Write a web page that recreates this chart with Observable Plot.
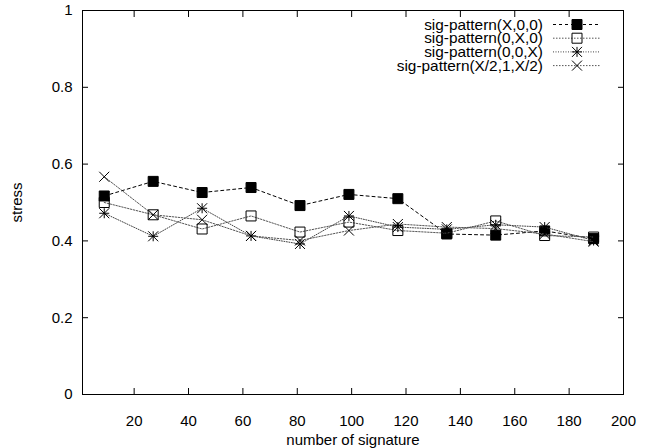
<!DOCTYPE html>
<html><head><meta charset="utf-8">
<script src="https://cdn.jsdelivr.net/npm/d3@7"></script>
<script src="https://cdn.jsdelivr.net/npm/@observablehq/plot@0.6"></script>
<style>body{margin:0;background:#fff} svg{display:block}</style>
</head><body><div id="chart"></div>
<script>
const xValues = [9, 27, 45, 63, 81, 99, 117, 135, 153, 171, 189];
const seriesNames = ["sig-pattern(X,0,0)", "sig-pattern(0,X,0)", "sig-pattern(0,0,X)", "sig-pattern(X/2,1,X/2)"];
const sX00 = [0.517, 0.555, 0.526, 0.539, 0.492, 0.521, 0.510, 0.418, 0.415, 0.426, 0.406];
const s0X0 = [0.500, 0.468, 0.431, 0.465, 0.423, 0.449, 0.427, 0.420, 0.452, 0.414, 0.410];
const s00X = [0.472, 0.412, 0.485, 0.413, 0.392, 0.465, 0.436, 0.430, 0.442, 0.436, 0.401];
const sHalf = [0.567, 0.468, 0.455, 0.413, 0.401, 0.427, 0.444, 0.436, 0.432, 0.418, 0.398];
const xTicks = [20, 40, 60, 80, 100, 120, 140, 160, 180, 200];
const yTicks = [0, 0.2, 0.4, 0.6, 0.8, 1];

const seriesValues = [sX00, s0X0, s00X, sHalf];

function sym(fn) { return {draw(ctx, size) { const h = Math.sqrt(size / Math.PI); fn(ctx, h); }}; }
const squareSym = sym((c, h) => { c.moveTo(-h, -h); c.lineTo(h, -h); c.lineTo(h, h); c.lineTo(-h, h); c.closePath(); });
const asteriskSym = sym((c, h) => { c.moveTo(-h, 0); c.lineTo(h, 0); c.moveTo(0, -h); c.lineTo(0, h); c.moveTo(-h, -h); c.lineTo(h, h); c.moveTo(-h, h); c.lineTo(h, -h); });
const timesSym = sym((c, h) => { c.moveTo(-h, -h); c.lineTo(h, h); c.moveTo(-h, h); c.lineTo(h, -h); });

const styles = [
  {dash: "3,3", stroke: "#000", symbol: squareSym, fill: "#000"},
  {dash: "1.5,1.5", stroke: "#555", symbol: squareSym, fill: "none"},
  {dash: "1,1.5", stroke: "#444", symbol: asteriskSym, fill: "none"},
  {dash: "1.5,1.5", stroke: "#555", symbol: timesSym, fill: "none"}
];

const data = seriesNames.map((name, i) => xValues.map((x, j) => ({series: name, x, y: seriesValues[i][j]})));

const marks = [];
data.forEach((rows, i) => {
  const st = styles[i];
  marks.push(Plot.line(rows, {x: "x", y: "y", stroke: st.stroke, strokeWidth: 1, strokeDasharray: st.dash}));
  marks.push(Plot.dot(rows, {x: "x", y: "y", symbol: st.symbol, r: 5, stroke: "#000", strokeWidth: 1, fill: st.fill}));
});

const plot = Plot.plot({
  width: 646,
  height: 448,
  marginLeft: 82,
  marginRight: 23,
  marginTop: 10,
  marginBottom: 54,
  style: {fontFamily: "'Liberation Sans', Arial, sans-serif", fontSize: "15px", color: "#000", background: "#fff"},
  x: {domain: [1, 200]},
  y: {domain: [0, 1]},
  marks: [
    Plot.axisX(xTicks, {anchor: "bottom", tickSize: 0, tickPadding: 21, label: "number of signature", labelAnchor: "center", labelArrow: "none", labelOffset: 50}),
    Plot.axisX(xTicks, {anchor: "bottom", tickSize: -6, tickFormat: () => "", label: null}),
    Plot.axisX(xTicks, {anchor: "top", tickSize: -6, tickFormat: () => "", label: null}),
    Plot.axisY(yTicks, {anchor: "left", tickSize: 0, tickPadding: 10, tickFormat: d => String(d), label: "stress", labelAnchor: "center", labelArrow: "none", labelOffset: 71}),
    Plot.axisY(yTicks, {anchor: "left", tickSize: -6, tickFormat: () => "", label: null}),
    Plot.axisY(yTicks, {anchor: "right", tickSize: -6, tickFormat: () => "", label: null}),
    ...marks,
    Plot.frame({stroke: "#000", strokeWidth: 1})
  ]
});

document.getElementById("chart").appendChild(plot);

// legend (inside the plot, top right)
const svg = d3.select(plot);
const lg = svg.append("g").attr("font-family", "'Liberation Sans', Arial, sans-serif").attr("font-size", 14);
seriesNames.forEach((name, i) => {
  const y = 24.5 + i * 13.7;
  const st = styles[i];
  lg.append("text").attr("transform", `translate(543,${y}) scale(1.1,1)`).attr("dy", "0.36em").attr("text-anchor", "end").attr("fill", "#000").text(name);
  lg.append("line").attr("x1", 553).attr("x2", 600).attr("y1", y).attr("y2", y)
    .attr("stroke", st.stroke).attr("stroke-dasharray", st.dash).attr("stroke-width", 1);
  const p = d3.path();
  st.symbol.draw(p, Math.PI * 25);
  lg.append("path").attr("d", p.toString()).attr("transform", `translate(577,${y})`)
    .attr("stroke", "#000").attr("fill", st.fill).attr("stroke-width", 1);
});
</script>
</body></html>
